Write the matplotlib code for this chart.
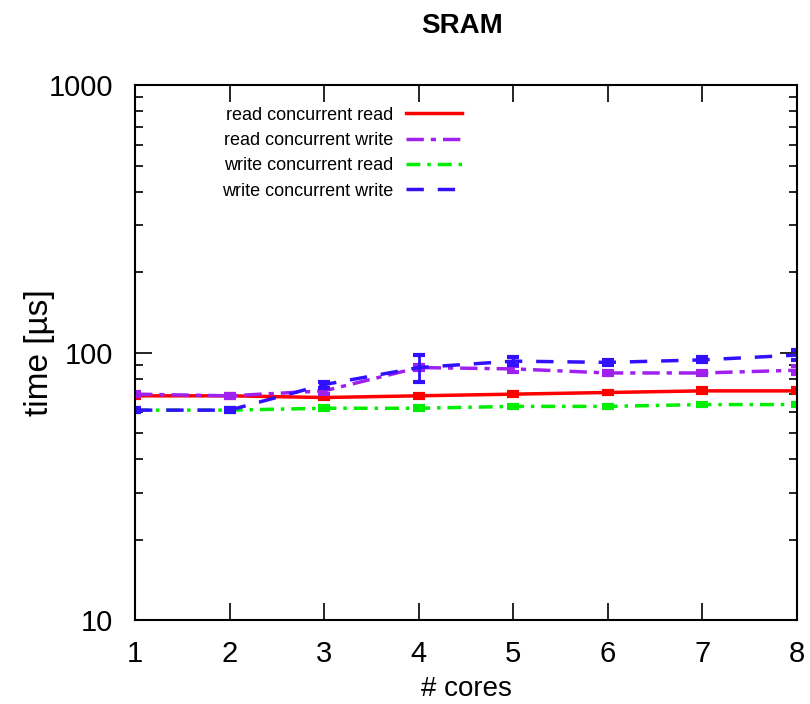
import matplotlib.pyplot as plt
from matplotlib.ticker import LogLocator, NullFormatter

plt.rcParams['font.family'] = ['Liberation Sans', 'DejaVu Sans']

cores = [1, 2, 3, 4, 5, 6, 7, 8]
labels = ["read concurrent read", "read concurrent write",
          "write concurrent read", "write concurrent write"]

read_read = [69, 69, 68, 69, 70, 71, 72, 72]
read_write = [70, 69, 72, 88, 87, 84, 84, 86]
write_read = [61, 61, 62, 62, 63, 63, 64, 64]
write_write = [61, 61, 76, 88, 93, 92, 94, 98]

err_rr = [1, 1, 1, 1, 1, 1, 1.5, 1.5]
err_rw = [1, 1, 2, 2, 2, 1.5, 1.5, 3]
err_wr = [1, 1, 1, 1, 1, 1, 1, 1]
err_ww = [1, 1, 2, 10, 3, 2, 2, 4]

series = [read_read, read_write, write_read, write_write]
errors = [err_rr, err_rw, err_wr, err_ww]
colors = ["#ff0000", "#a020f0", "#00ee00", "#3010ff"]
styles = ["-", (0, (5, 2, 1.5, 2)), (0, (4, 2, 1, 2)), (0, (5, 4))]

fig = plt.figure(figsize=(8.1, 7.04), dpi=100)
ax = fig.add_axes([0.1667, 0.119, 0.8173, 0.760])

for vals, err, col, ls, lab in zip(series, errors, colors, styles, labels):
    ax.plot(cores, vals, color=col, linestyle=ls, linewidth=2.5, label=lab)
    ax.errorbar(cores, vals, yerr=err, fmt='none', ecolor=col, elinewidth=2,
                capsize=4, capthick=3)

ax.set_yscale('log')
ax.set_ylim(10, 1000)
ax.set_xlim(1, 8)
ax.set_xticks(cores)
ax.set_yticks([10, 100, 1000])
ax.set_yticklabels(["10", "100", "1000"])
ax.yaxis.set_minor_locator(LogLocator(base=10, subs=range(2, 10)))
ax.yaxis.set_minor_formatter(NullFormatter())
ax.tick_params(which='both', direction='in', top=True, right=True, width=1.2)
ax.tick_params(which='major', length=12, labelsize=21)
ax.tick_params(axis='x', which='major', pad=14)
ax.tick_params(axis='y', which='major', pad=16)
ax.tick_params(which='minor', length=6)
for s in ax.spines.values():
    s.set_linewidth(1.5)

ax.set_xlabel("# cores", fontsize=20, labelpad=6)
ax.set_ylabel("time [µs]", fontsize=24, labelpad=-5)
fig.text(0.571, 0.963, "SRAM", ha='center', va='center', fontsize=20,
         fontweight='bold')

leg = ax.legend(loc='upper right', bbox_to_anchor=(0.494, 0.960), frameon=False,
                markerfirst=False, handlelength=3.1, handletextpad=0.7,
                labelspacing=0.46, borderpad=0, borderaxespad=0,
                prop={'size': 13})
for t in leg.get_texts():
    t.set_ha('right')
leg._legend_box.align = "right"

fig.savefig("out.png", dpi=100)
